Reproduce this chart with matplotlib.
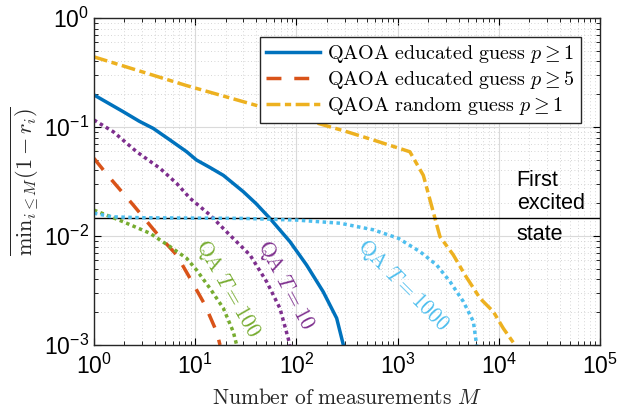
import matplotlib
matplotlib.use("Agg")
import matplotlib.pyplot as plt

plt.rcParams['font.family'] = ['Liberation Sans', 'DejaVu Sans']
plt.rcParams['mathtext.fontset'] = 'cm'

# dados
edu1_M = [1, 1.95, 2.8, 3.86, 5.64, 8.24, 10.3, 14, 19, 29.9, 40, 54.8, 86.4, 126, 184, 250, 291]
edu1_v = [0.197, 0.138, 0.113, 0.097, 0.076, 0.0593, 0.0498, 0.0425, 0.036, 0.0255, 0.0198, 0.0145, 0.00887, 0.00542, 0.00308, 0.00176, 0.001]

edu5_M = [1, 1.24, 1.5, 2.45, 4.16, 6.56, 8.89, 12.5, 16.3, 17.6]
edu5_v = [0.0516, 0.0403, 0.0326, 0.0192, 0.0106, 0.0067, 0.0041, 0.00233, 0.00132, 0.001]

rand_M = [1, 8.2, 40, 314, 575, 1320, 1795, 2340, 2620, 3550, 4630, 6520, 8830, 11070, 14450]
rand_v = [0.44, 0.24, 0.158, 0.0906, 0.076, 0.0593, 0.036, 0.0145, 0.00985, 0.0067, 0.00439, 0.00268, 0.00202, 0.00142, 0.001]

qa10_M = [1, 1.55, 2.64, 4.49, 6.56, 8.89, 14, 22, 34.8, 50.8, 68.8, 83, 86]
qa10_v = [0.116, 0.0906, 0.0593, 0.0418, 0.0304, 0.0222, 0.0156, 0.0102, 0.0067, 0.00381, 0.00217, 0.00115, 0.001]

qa100_M = [1, 1.95, 3.57, 5.64, 8.24, 10.3, 14, 19, 23.8, 25.7]
qa100_v = [0.0173, 0.0135, 0.0106, 0.008, 0.00624, 0.00488, 0.00331, 0.00217, 0.00132, 0.001]

qa1000_M = [1, 1.5, 3, 10, 30, 100, 270, 575, 1016, 1665, 2430, 3295, 4460, 5600, 6030]
qa1000_v = [0.0162, 0.015, 0.0147, 0.0146, 0.0145, 0.0140, 0.0131, 0.0114, 0.00953, 0.00718, 0.00542, 0.00381, 0.0025, 0.00164, 0.001]

first_excited = 0.0146

fig = plt.figure(figsize=(6.18, 4.09), dpi=100)
ax = fig.add_axes([0.152, 0.1565, 0.819, 0.7995])

lw = 2.5
ax.plot(edu1_M, edu1_v, color='#0072BD', lw=lw, label=r'$\mathrm{QAOA\ educated\ guess}\ p \geq 1$')
ax.plot(edu5_M, edu5_v, color='#D95319', lw=lw, linestyle=(0, (4.3, 3.7)),
        label=r'$\mathrm{QAOA\ educated\ guess}\ p \geq 5$')
ax.plot(rand_M, rand_v, color='#EDB120', lw=lw, linestyle=(0, (4, 1.3, 1.8, 1.3)),
        label=r'$\mathrm{QAOA\ random\ guess}\ p \geq 1$')
ax.axhline(first_excited, color='black', lw=1)
ax.plot(qa10_M, qa10_v, color='#7E2F8E', lw=lw, linestyle=(0, (1, 1)), dash_capstyle='butt')
ax.plot(qa100_M, qa100_v, color='#77AC30', lw=lw, linestyle=(0, (1, 1)), dash_capstyle='butt')
ax.plot(qa1000_M, qa1000_v, color='#4DBEEE', lw=lw, linestyle=(0, (1, 1)), dash_capstyle='butt')

ax.set_xscale('log')
ax.set_yscale('log')
ax.set_xlim(1, 1e5)
ax.set_ylim(1e-3, 1)

ax.grid(True, which='major', color='#DADADA', lw=0.8)
ax.grid(True, which='minor', color='#C8C8C8', lw=0.6, linestyle=(0, (1, 3)))
ax.tick_params(which='both', direction='in', top=True, right=True, labelsize=16.5)
ax.tick_params(axis='x', pad=6)
ax.tick_params(which='major', length=5)
ax.tick_params(which='minor', length=3)
for s in ax.spines.values():
    s.set_linewidth(1)
    s.set_color('#262626')

ax.set_xlabel(r'$\mathrm{Number\ of\ measurements}\ M$', fontsize=15.5, color='#262626', labelpad=7)
ax.set_ylabel(r'$\overline{\mathrm{min}_{i\leq M}(1-r_i)}$', fontsize=16, color='#262626', labelpad=2)

ax.text(21, 0.0033, r'$\mathrm{QA}\ T = 100$', color='#77AC30', fontsize=15.5, rotation=-60,
        ha='center', va='center')
ax.text(77, 0.0035, r'$\mathrm{QA}\ T = 10$', color='#7E2F8E', fontsize=15.5, rotation=-62,
        ha='center', va='center')
ax.text(1130, 0.0035, r'$\mathrm{QA}\ T = 1000$', color='#4DBEEE', fontsize=15.5, rotation=-45,
        ha='center', va='center')

ax.text(1.5e4, first_excited * 1.1, 'First\nexcited', fontsize=15.5, ha='left', va='bottom',
        linespacing=1.1)
ax.text(1.5e4, first_excited * 0.89, 'state', fontsize=15.5, ha='left', va='top')

leg = ax.legend(loc='upper right', bbox_to_anchor=(0.962, 0.942), fontsize=14.5,
                fancybox=False, framealpha=1, edgecolor='#262626', handlelength=2.7,
                handletextpad=0.35, labelspacing=0.2, borderpad=0.3, borderaxespad=0)
leg.get_frame().set_linewidth(1)

fig.savefig('out.png', dpi=100)
